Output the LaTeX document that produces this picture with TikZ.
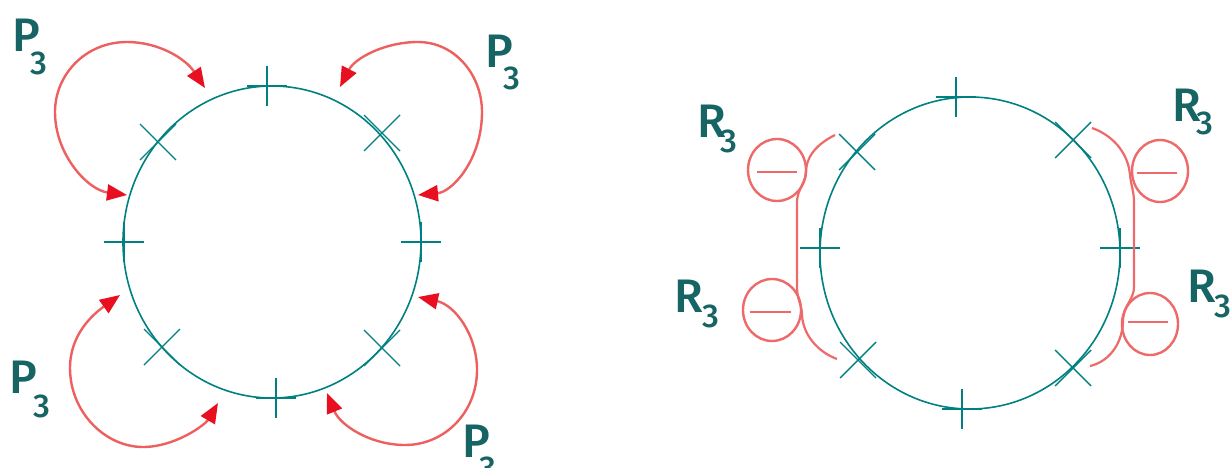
\documentclass[tikz,border=0pt]{standalone}
\usepackage{fontspec}
\setmainfont{Fira Sans}[UprightFont=* Medium]
\usetikzlibrary{arrows.meta}
\definecolor{tealc}{RGB}{0,128,128}
\definecolor{tealtxt}{RGB}{22,100,100}
\definecolor{redline}{RGB}{238,95,95}
\definecolor{redtip}{RGB}{232,16,32}
\definecolor{redsym}{RGB}{238,105,105}
\newcommand{\sublbl}[3]{#1\kern#2\raisebox{-#3}{\fontsize{33}{33}\selectfont 3}}
\begin{document}
\begin{tikzpicture}[x=1pt,y=-1pt,
  ring/.style={draw=tealc, line width=1.6pt},
  tick/.style={draw=tealc, line width=1.4pt},
  parc/.style={draw=redline, line width=2.4pt,
    {Triangle[length=20pt,width=16pt,color=redtip]}-{Triangle[length=20pt,width=16pt,color=redtip]}},
  hook/.style={draw=redsym, line width=2.2pt},
  minus/.style={draw=redsym, line width=2.4pt},
  lbl/.style={text=tealtxt, font=\fontsize{47}{47}\selectfont, anchor=base west, inner sep=0pt},
  pluspic/.pic={\draw[tick] (-20,0)--(20,0) (0,-20)--(0,20);},
  crosspic/.pic={\draw[tick] (-18,-18)--(18,18) (-18,18)--(18,-18);}]
\useasboundingbox (0,0) rectangle (1231,468);

% ---------- left circle ----------
\draw[ring] (272,242) ellipse [x radius=149pt, y radius=156pt];
\pic at (267,86) {pluspic};
\pic at (276,398) {pluspic};
\pic at (124,242) {pluspic};
\pic at (421,242) {pluspic};
\pic at (158,142) {crosspic};
\pic at (382,133) {crosspic};
\pic at (162,347) {crosspic};
\pic at (382,348) {crosspic};

% P3 double arrows
\draw[parc] (205,88) .. controls (185,58) and (158,42) .. (127,42)
  .. controls (85,42) and (55,75) .. (55,112)
  .. controls (55,155) and (88,190) .. (127,195);
\draw[parc] (340,87) .. controls (355,58) and (385,42) .. (418,42)
  .. controls (455,42) and (482,75) .. (482,112)
  .. controls (482,160) and (452,192) .. (418,195);
\draw[parc] (120,295) .. controls (92,315) and (70,335) .. (70,368)
  .. controls (70,412) and (105,447) .. (143,447)
  .. controls (175,447) and (205,425) .. (218,403);
\draw[parc] (418,297) .. controls (455,305) and (477,335) .. (477,370)
  .. controls (477,412) and (445,445) .. (405,445)
  .. controls (370,445) and (340,425) .. (327,393);

\node[lbl] (p1) at (12,52) {\sublbl{P}{-9pt}{23pt}};
\node[lbl] (p2) at (485,68) {\sublbl{P}{-9pt}{22pt}};
\node[lbl] (p3) at (9,393) {\sublbl{P}{-3pt}{24pt}};
\node[lbl] (p4) at (462,457) {\sublbl{P}{-10pt}{22pt}};

% ---------- right circle ----------
\draw[ring] (970,253) ellipse [x radius=150pt, y radius=156pt];
\pic at (956,97) {pluspic};
\pic at (962,409) {pluspic};
\pic at (820,248) {pluspic};
\pic at (1120,248) {pluspic};
\pic at (857,152) {crosspic};
\pic at (1073,140) {crosspic};
\pic at (858,360) {crosspic};
\pic at (1073,368) {crosspic};

% R3 symbols, left side
\draw[hook] (835,135) .. controls (815,145) and (806,158) .. (806,172)
  .. controls (806,182) and (797,190) .. (797,202) -- (797,287)
  .. controls (797,300) and (802,305) .. (802,315)
  .. controls (803,335) and (818,352) .. (837,359);
\draw[minus] (777,170) ellipse [x radius=29pt, y radius=31pt];
\draw[minus] (757,172) -- (797,172);
\draw[minus] (772,310) ellipse [x radius=29pt, y radius=31pt];
\draw[minus] (750,312) -- (791,312);

% R3 symbols, right side
\draw[hook] (1092,128) .. controls (1112,135) and (1128,152) .. (1130,175)
  .. controls (1131,185) and (1134,192) .. (1134,202) -- (1134,287)
  .. controls (1134,300) and (1123,305) .. (1123,322)
  .. controls (1122,345) and (1108,362) .. (1090,366);
\draw[minus] (1160,171) ellipse [x radius=28pt, y radius=31pt];
\draw[minus] (1137,173) -- (1177,173);
\draw[minus] (1150,324) ellipse [x radius=28pt, y radius=31pt];
\draw[minus] (1128,322) -- (1168,322);

\node[lbl] (r1) at (697,138) {\sublbl{R}{-5pt}{15pt}};
\node[lbl] (r2) at (674,312) {\sublbl{R}{0pt}{15pt}};
\node[lbl] (r3) at (1172,122) {\sublbl{R}{-4pt}{13pt}};
\node[lbl] (r4) at (1187,302) {\sublbl{R}{-1pt}{15pt}};
\end{tikzpicture}
\end{document}
